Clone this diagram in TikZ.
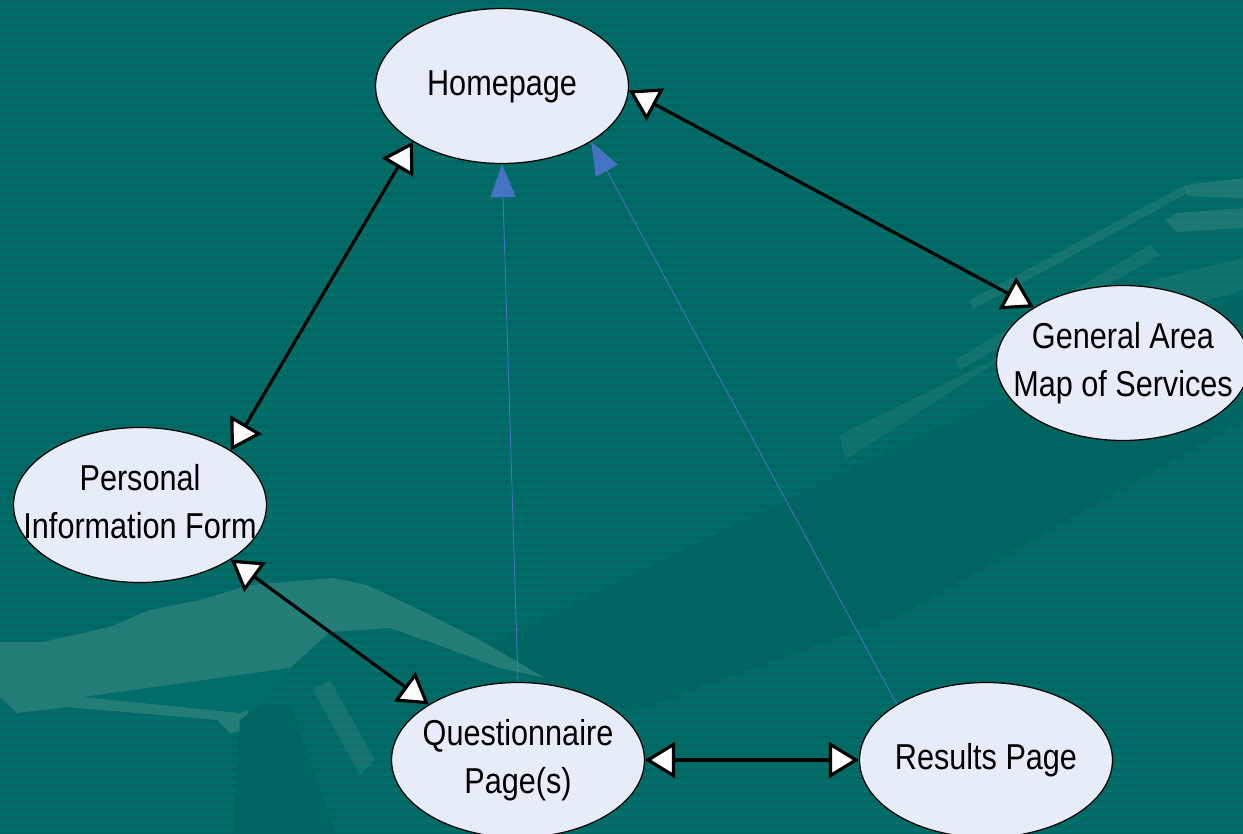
\documentclass[tikz,border=0pt]{standalone}
\usepackage{fontspec}
\setmainfont[FakeStretch=0.85]{Liberation Sans}
\usepackage{tikz}
\usetikzlibrary{arrows.meta, shapes.geometric}
\definecolor{bgteal}{RGB}{0,109,104}
\definecolor{darkteal}{RGB}{0,101,97}
\definecolor{lightteal}{RGB}{36,124,119}
\definecolor{pagefill}{RGB}{230,236,248}
\definecolor{linkblue}{RGB}{70,114,196}
\newcommand{\pagetext}[1]{\makebox[0pt]{\begin{tabular}{@{}c@{}}#1\end{tabular}}}

\begin{document}
\begin{tikzpicture}[x=0.02cm, y=-0.02cm,
  page/.style={ellipse, draw=black, line width=0.7pt, fill=pagefill,
    minimum width=5.06cm, minimum height=3.1cm, inner sep=0pt,
    font=\fontsize{20.5}{27}\selectfont},
  twoway/.style={line width=1.8pt, black,
    {Triangle[fill=white,length=0.6cm,width=0.72cm]}-{Triangle[fill=white,length=0.6cm,width=0.72cm]}},
  backlink/.style={line width=0.5pt, linkblue,
    -{Triangle[length=0.66cm,width=0.5cm]}}]
\useasboundingbox (0,0) rectangle (1243,834);
% background
\fill[bgteal] (0,0) rectangle (1243,834);
\foreach \y in {0,8,...,832} {
    \fill[black,opacity=0.05] (0,\y) rectangle (1243,\y+4);
}
\fill[darkteal] (470,655) -- (900,445) -- (1243,295) -- (1243,420) -- (900,615) -- (630,712) -- cycle;
% arm shape, lower left
\fill[lightteal] (0,642) -- (43,642) -- (110,627) -- (150,610) -- (200,600) -- (250,585)
    -- (333,578) -- (367,585) -- (420,610) -- (480,640) -- (545,678) -- (500,668)
    -- (430,642) -- (390,628) -- (330,632) -- (290,668) -- (250,700) -- (245,730)
    -- (230,733) -- (217,720) -- (67,707) -- (17,713) -- (0,697) -- cycle;
\fill[bgteal] (83,697) -- (290,668) -- (262,704) -- (240,713) -- cycle;
\fill[darkteal] (233,834) -- (240,720) -- (262,704) -- (290,705) -- (335,834) -- cycle;
\fill[lightteal,opacity=0.6] (313,690) -- (330,680) -- (375,760) -- (360,775) -- cycle;
% streaks, right
\fill[lightteal,opacity=0.8] (1185,185) -- (1243,178) -- (1243,198) -- (1187,196) -- cycle;
\fill[lightteal,opacity=0.8] (1165,220) -- (1177,213) -- (1243,208) -- (1243,228) -- (1177,232) -- cycle;
\fill[lightteal,opacity=0.6] (970,300) -- (1185,185) -- (1190,192) -- (972,310) -- cycle;
\fill[lightteal,opacity=0.5] (955,360) -- (1150,245) -- (1160,255) -- (960,370) -- cycle;
\fill[lightteal,opacity=0.45] (840,435) -- (1160,278) -- (1243,258) -- (1243,290) -- (1000,360) -- (845,460) -- cycle;
% pages
\node[page] (home) at (502,86) {\pagetext{Homepage}};
\node[page] (genmap) at (1123,363) {\pagetext{General Area\\Map of Services}};
\node[page] (personal) at (140,505) {\pagetext{Personal\\Information Form}};
\node[page] (quest) at (518,760) {\pagetext{Questionnaire\\Page(s)}};
\node[page] (results) at (986,760) {\pagetext{Results Page}};
% links
\draw[backlink] (quest.north) -- (home.south);
\draw[backlink] (results.148) -- (home.328);
\draw[twoway] (home.212) -- (personal.31);
\draw[twoway] (home.-2) -- (genmap.148);
\draw[twoway] (personal.329) -- (quest.148);
\draw[twoway] (quest.east) -- (results.west);
\end{tikzpicture}
\end{document}
